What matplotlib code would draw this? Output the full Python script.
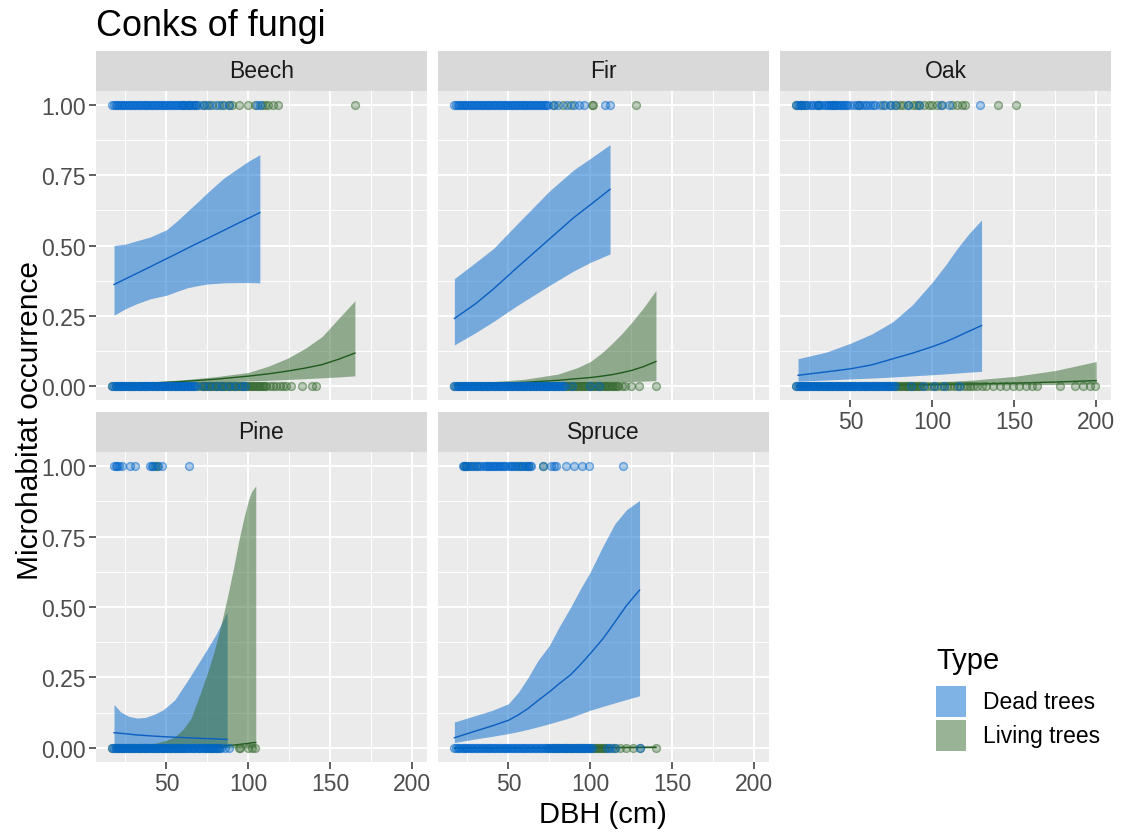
import matplotlib.pyplot as plt
from matplotlib.colors import to_rgba
from matplotlib.patches import Rectangle

plt.rcParams['font.family'] = ['Liberation Sans', 'DejaVu Sans']

W, H = 1121, 837

# ---- fitted curves (DBH knots, lower, fit, upper) ----
beech_dead_x = [18, 25, 32, 40, 50, 57, 63, 70, 75, 85, 94, 100, 107]
beech_dead_lo = [0.252, 0.275, 0.293, 0.31, 0.323, 0.338, 0.35, 0.358, 0.363, 0.367, 0.368, 0.368, 0.367]
beech_dead_fit = [0.361, 0.381, 0.401, 0.424, 0.453, 0.473, 0.491, 0.511, 0.525, 0.554, 0.580, 0.597, 0.617]
beech_dead_hi = [0.50, 0.505, 0.517, 0.53, 0.556, 0.59, 0.623, 0.66, 0.688, 0.74, 0.776, 0.80, 0.823]
beech_live_x = [18, 40, 60, 80, 100, 112, 124, 135, 145, 155, 165]
beech_live_lo = [0.002, 0.005, 0.009, 0.013, 0.018, 0.02, 0.023, 0.026, 0.029, 0.032, 0.036]
beech_live_fit = [0.005, 0.01, 0.016, 0.024, 0.035, 0.043, 0.053, 0.064, 0.076, 0.095, 0.117]
beech_live_hi = [0.008, 0.014, 0.022, 0.033, 0.048, 0.07, 0.099, 0.135, 0.176, 0.24, 0.303]

fir_dead_x = [17, 30, 41, 55, 75, 90, 100, 112]
fir_dead_lo = [0.146, 0.19, 0.23, 0.285, 0.358, 0.41, 0.44, 0.47]
fir_dead_fit = [0.24, 0.293, 0.346, 0.42, 0.523, 0.60, 0.645, 0.70]
fir_dead_hi = [0.382, 0.44, 0.49, 0.575, 0.694, 0.77, 0.81, 0.859]
fir_live_x = [17, 40, 60, 80, 92, 100, 107, 113, 119, 125, 132, 140]
fir_live_lo = [0.001, 0.003, 0.006, 0.009, 0.011, 0.012, 0.013, 0.014, 0.015, 0.016, 0.017, 0.019]
fir_live_fit = [0.004, 0.008, 0.013, 0.02, 0.026, 0.03, 0.035, 0.04, 0.047, 0.055, 0.068, 0.087]
fir_live_hi = [0.01, 0.015, 0.024, 0.042, 0.065, 0.087, 0.118, 0.15, 0.185, 0.225, 0.275, 0.34]

oak_dead_x = [18, 35, 50, 63, 76, 88, 100, 108, 115, 122, 130]
oak_dead_lo = [0.017, 0.021, 0.025, 0.028, 0.032, 0.036, 0.04, 0.043, 0.046, 0.049, 0.052]
oak_dead_fit = [0.038, 0.05, 0.061, 0.075, 0.097, 0.117, 0.14, 0.157, 0.175, 0.194, 0.215]
oak_dead_hi = [0.097, 0.12, 0.152, 0.185, 0.229, 0.29, 0.37, 0.43, 0.488, 0.54, 0.591]
oak_live_x = [17, 50, 100, 125, 150, 175, 200]
oak_live_lo = [0.0, 0.001, 0.002, 0.003, 0.004, 0.005, 0.007]
oak_live_fit = [0.001, 0.002, 0.005, 0.007, 0.01, 0.014, 0.019]
oak_live_hi = [0.002, 0.004, 0.013, 0.021, 0.034, 0.055, 0.087]

pine_dead_x = [18, 22, 27, 32, 37, 42, 48, 55, 63, 70, 75, 80, 83, 87]
pine_dead_lo = [0.006, 0.005, 0.004, 0.003, 0.002, 0.002, 0.001, 0.001, 0.0005, 0.0004, 0.0003, 0.0002, 0.0002, 0.0001]
pine_dead_fit = [0.054, 0.052, 0.049, 0.046, 0.044, 0.042, 0.04, 0.038, 0.036, 0.034, 0.033, 0.032, 0.031, 0.03]
pine_dead_hi = [0.154, 0.128, 0.112, 0.106, 0.108, 0.118, 0.135, 0.17, 0.24, 0.305, 0.352, 0.40, 0.435, 0.483]
pine_live_x = [18, 42, 50, 55, 60, 65, 71, 75, 79, 83, 87, 91, 94, 97, 100, 102, 104.5]
pine_live_lo = [0, 0, 0, 0, 0, 0, 0, 0, 0, 0, 0, 0, 0, 0, 0, 0, 0]
pine_live_fit = [0.0, 0.0005, 0.0008, 0.001, 0.0015, 0.002, 0.003, 0.004, 0.005, 0.006, 0.008, 0.01, 0.012, 0.014, 0.016, 0.018, 0.019]
pine_live_hi = [0.005, 0.015, 0.027, 0.039, 0.065, 0.105, 0.199, 0.265, 0.34, 0.43, 0.53, 0.64, 0.731, 0.81, 0.879, 0.91, 0.93]

spruce_dead_x = [17, 30, 40, 50, 56, 62, 68, 75, 81, 88, 94, 100, 108, 115, 122, 130]
spruce_dead_lo = [0.019, 0.032, 0.041, 0.051, 0.058, 0.066, 0.075, 0.086, 0.096, 0.108, 0.121, 0.134, 0.148, 0.16, 0.172, 0.185]
spruce_dead_fit = [0.036, 0.06, 0.078, 0.098, 0.117, 0.14, 0.168, 0.199, 0.228, 0.26, 0.296, 0.335, 0.39, 0.447, 0.505, 0.56]
spruce_dead_hi = [0.092, 0.115, 0.133, 0.157, 0.197, 0.25, 0.31, 0.364, 0.43, 0.50, 0.565, 0.625, 0.72, 0.796, 0.845, 0.878]
spruce_live_x = [17, 60, 100, 140]
spruce_live_lo = [0, 0, 0, 0]
spruce_live_fit = [0.0, 0.0005, 0.001, 0.002]
spruce_live_hi = [0.001, 0.002, 0.004, 0.008]

# ---- observed trees: DBH of trees with (1) / without (0) conks ----
beech_dead_1 = [17, 18, 19, 20, 21, 22, 23, 24, 25, 26, 27, 28, 29, 30, 31, 32, 33, 34, 35,
                36, 37, 38, 39, 40, 41, 42, 43, 44, 45, 46, 47, 48, 49, 50, 51, 52, 53, 54,
                55, 56, 57, 58, 59, 60, 61, 62, 63, 64, 65, 66, 67, 68, 70, 73, 76, 80, 84,
                88, 105, 107]
beech_live_1 = [60, 64, 68, 72, 75, 78, 82, 85, 88, 90, 94, 100, 104, 108, 110, 112, 115, 118, 165]
beech_dead_0 = [17, 18, 19, 20, 21, 22, 23, 24, 25, 26, 27, 28, 29, 30, 31, 32, 33, 34, 35,
                36, 37, 38, 39, 40, 41, 42, 43, 44, 45, 46, 47, 48, 49, 50, 51, 52, 53, 54,
                55, 56, 57, 58, 59, 60, 61, 62, 63, 64, 65, 66, 67, 68, 72, 76, 80, 84, 88,
                92, 96, 98]
beech_live_0 = [17, 19, 21, 23, 25, 27, 29, 31, 33, 35, 37, 39, 41, 43, 45, 47, 49, 51, 53,
                55, 57, 59, 61, 63, 65, 67, 69, 71, 72, 73, 74, 75, 76, 77, 78, 79, 80, 81,
                82, 83, 84, 85, 86, 87, 88, 89, 90, 91, 92, 93, 94, 95, 96, 97, 98, 99, 100,
                101, 102, 103, 104, 105, 106, 107, 108, 109, 110, 111, 113, 115, 117, 119,
                121, 123, 126, 133, 139, 141]

fir_dead_1 = [17, 18, 19, 20, 21, 22, 23, 24, 25, 26, 27, 28, 29, 30, 31, 32, 33, 34, 35,
              36, 37, 38, 39, 40, 41, 42, 43, 44, 45, 46, 47, 48, 49, 50, 51, 52, 53, 54,
              55, 56, 57, 58, 59, 60, 61, 62, 63, 64, 65, 66, 67, 68, 69, 70, 71, 72, 73,
              74, 77, 80, 86, 90, 93, 96, 109, 112]
fir_live_1 = [78, 83, 88, 101, 101.5, 127.6]
fir_dead_0 = [17, 18, 19, 20, 21, 22, 23, 24, 25, 26, 27, 28, 29, 30, 31, 32, 33, 34, 35,
              36, 37, 38, 39, 40, 41, 42, 43, 44, 45, 46, 47, 48, 49, 50, 51, 52, 53, 54,
              55, 56, 57, 58, 59, 60, 61, 62, 63, 64, 65, 66, 67, 68, 69, 70, 71, 72, 73,
              74, 75, 76, 77, 78, 79, 80, 81, 82, 83, 84, 88.5, 100, 105]
fir_live_0 = [17, 19, 21, 23, 25, 27, 29, 31, 33, 35, 37, 39, 41, 43, 45, 47, 49, 51, 53,
              55, 57, 59, 61, 63, 65, 67, 69, 71, 73, 75, 77, 79, 81, 83, 85, 86, 87, 88,
              89, 90, 91, 92, 93, 94, 95, 96, 97, 98, 99, 100, 101, 102, 103, 104, 105,
              106, 107, 108, 109, 110, 111, 112, 113, 114, 115, 116, 117, 119, 121, 124.5,
              129.6, 140]

oak_dead_1 = [17, 18, 19, 20, 21, 23, 24, 26, 27, 29, 30, 31, 32, 34, 35, 36, 37, 38, 39,
              40, 41, 42, 43, 44, 45, 46, 47, 48, 50, 52, 54, 55, 57, 59, 60, 62, 64, 65,
              68, 71, 74, 77, 85, 92, 105, 110, 129]
oak_live_1 = [17, 20, 22, 30, 40, 55, 70, 75, 78, 80, 82, 85, 88, 90, 92, 95, 98, 100, 103,
              106, 112, 115, 118, 120, 140, 151]
oak_dead_0 = [17, 18, 19, 20, 21, 22, 23, 24, 25, 26, 27, 28, 29, 30, 31, 32, 33, 34, 35,
              36, 37, 38, 39, 40, 41, 42, 43, 44, 45, 46, 47, 48, 49, 50, 51, 52, 53, 54,
              55, 56, 57, 58, 59, 60, 61, 62, 63, 64, 65, 66, 67, 68, 69, 70, 71, 72, 73,
              74, 75, 76, 77, 87, 94, 101, 107, 116]
oak_live_0 = [17, 19, 21, 23, 25, 27, 29, 31, 33, 35, 37, 39, 41, 43, 45, 47, 49, 51, 53,
              55, 57, 59, 61, 63, 65, 67, 69, 71, 73, 75, 77, 78, 79, 80, 81, 82, 83, 84,
              85, 86, 87, 88, 89, 90, 91, 92, 93, 95, 97, 99, 101, 103, 105, 107, 109, 111,
              113, 115, 117, 119, 121, 123, 125, 127, 130, 133, 137, 141, 145, 149, 153,
              157, 161, 164, 178, 187, 192, 196, 199]

pine_dead_1 = [18, 19, 20, 21, 23, 28, 31, 40, 41, 42, 45, 47, 64]
pine_live_1 = [43, 44]
pine_dead_0 = [17, 18, 19, 20, 21, 22, 23, 24, 25, 26, 27, 28, 29, 30, 31, 32, 33, 34, 35,
               36, 37, 38, 39, 40, 41, 42, 43, 44, 45, 46, 47, 48, 49, 50, 51, 52, 53, 54,
               55, 56, 57, 58, 59, 60, 61, 62, 63, 64, 65, 66, 67, 68, 69, 70, 71, 72, 73,
               74, 75, 76, 77, 78, 79, 80, 81, 82, 83, 86, 88]
pine_live_0 = [17, 19, 21, 23, 25, 27, 29, 31, 33, 35, 37, 39, 41, 43, 45, 47, 49, 51, 53,
               55, 57, 59, 62, 66, 70, 74, 76, 78, 80, 82, 94, 95, 100, 102, 104]

spruce_dead_1 = [22, 23, 24, 25, 27, 28, 29, 31, 32, 33, 35, 36, 37, 38, 39, 40, 41, 42, 43,
                 44, 45, 46, 47, 48, 50, 51, 52, 53, 54, 56, 57, 58, 60, 61, 62, 63, 64, 71,
                 76, 78, 79, 85, 90, 95, 99, 120]
spruce_live_1 = [23, 24, 26, 30, 55, 58, 62, 71]
spruce_dead_0 = [17, 18, 19, 20, 21, 22, 23, 24, 25, 26, 27, 28, 29, 30, 31, 32, 33, 34,
                 35, 36, 37, 38, 39, 40, 41, 42, 43, 44, 45, 46, 47, 48, 49, 50, 51, 52, 53,
                 54, 55, 56, 57, 58, 59, 60, 61, 62, 63, 64, 65, 66, 67, 68, 69, 70, 71, 72,
                 73, 74, 75, 76, 77, 78, 79, 80, 81, 82, 83, 84, 85, 86, 87, 88, 89, 90, 91,
                 92, 93, 94, 95, 96, 97, 98, 99, 100, 101, 110, 112, 115, 130]
spruce_live_0 = [75, 77, 79, 81, 83, 85, 87, 89, 91, 93, 95, 97, 99, 101, 102, 103, 104, 105,
                 106, 107, 108, 109, 111, 113, 115, 118, 122, 126, 130, 140]

species = ["Beech", "Fir", "Oak", "Pine", "Spruce"]
types = ["Dead trees", "Living trees"]

curves = {
    "Beech": [(beech_dead_x, beech_dead_lo, beech_dead_fit, beech_dead_hi),
              (beech_live_x, beech_live_lo, beech_live_fit, beech_live_hi)],
    "Fir": [(fir_dead_x, fir_dead_lo, fir_dead_fit, fir_dead_hi),
            (fir_live_x, fir_live_lo, fir_live_fit, fir_live_hi)],
    "Oak": [(oak_dead_x, oak_dead_lo, oak_dead_fit, oak_dead_hi),
            (oak_live_x, oak_live_lo, oak_live_fit, oak_live_hi)],
    "Pine": [(pine_dead_x, pine_dead_lo, pine_dead_fit, pine_dead_hi),
             (pine_live_x, pine_live_lo, pine_live_fit, pine_live_hi)],
    "Spruce": [(spruce_dead_x, spruce_dead_lo, spruce_dead_fit, spruce_dead_hi),
               (spruce_live_x, spruce_live_lo, spruce_live_fit, spruce_live_hi)],
}
points = {
    "Beech": [(beech_dead_1, beech_dead_0), (beech_live_1, beech_live_0)],
    "Fir": [(fir_dead_1, fir_dead_0), (fir_live_1, fir_live_0)],
    "Oak": [(oak_dead_1, oak_dead_0), (oak_live_1, oak_live_0)],
    "Pine": [(pine_dead_1, pine_dead_0), (pine_live_1, pine_live_0)],
    "Spruce": [(spruce_dead_1, spruce_dead_0), (spruce_live_1, spruce_live_0)],
}

colors = ["#0066CC", "#33692D"]
line_colors = ["#0A5FC2", "#1F5A1F"]

# panel layout in pixels
col_left = [96, 438, 780]
panel_w = 331
rows = [(52, 92, 401), (413, 453, 763)]
layout = {"Beech": (0, 0), "Fir": (1, 0), "Oak": (2, 0), "Pine": (0, 1), "Spruce": (1, 1)}


def frac(l, t, r, b):
    return [l / W, 1 - b / H, (r - l) / W, (b - t) / H]


fig = plt.figure(figsize=(W / 100, H / 100), dpi=100)
fig.patch.set_facecolor("white")

for sp in species:
    c, r = layout[sp]
    l = col_left[c]
    s_top, p_top, p_bot = rows[r]

    # strip
    sax = fig.add_axes(frac(l, s_top, l + panel_w, p_top))
    sax.set_facecolor("#D9D9D9")
    sax.set_xticks([])
    sax.set_yticks([])
    for sp_ in sax.spines.values():
        sp_.set_visible(False)
    sax.text(0.5, 0.5, sp, ha="center", va="center", fontsize=16.5, color="#1A1A1A",
             transform=sax.transAxes)

    ax = fig.add_axes(frac(l, p_top, l + panel_w, p_bot))
    ax.set_facecolor("#EBEBEB")
    for sp_ in ax.spines.values():
        sp_.set_visible(False)
    ax.set_xlim(7, 209)
    ax.set_ylim(-0.05, 1.05)
    ax.set_xticks([50, 100, 150, 200])
    ax.set_xticks([25, 75, 125, 175], minor=True)
    ax.set_yticks([0, 0.25, 0.5, 0.75, 1.0])
    ax.set_yticks([0.125, 0.375, 0.625, 0.875], minor=True)
    ax.grid(which="major", color="white", linewidth=1.4)
    ax.grid(which="minor", color="white", linewidth=0.7)
    ax.set_axisbelow(True)
    ax.tick_params(which="minor", length=0)
    ax.tick_params(which="major", length=5, width=1.1, color="#333333",
                   labelsize=16.5, labelcolor="#4D4D4D", pad=2.5)

    if c == 0:
        ax.set_yticklabels(["0.00", "0.25", "0.50", "0.75", "1.00"])
    else:
        ax.tick_params(axis="y", which="major", length=0, labelleft=False)
    if r == 1 or sp == "Oak":
        ax.set_xticklabels(["50", "100", "150", "200"])
    else:
        ax.tick_params(axis="x", which="major", length=0, labelbottom=False)

    for k in range(2):
        x, lo, fit, hi = curves[sp][k]
        ax.fill_between(x, lo, hi, color=colors[k], alpha=0.5, linewidth=0, zorder=2)
    for k in range(2):
        x, lo, fit, hi = curves[sp][k]
        ax.plot(x, fit, color=line_colors[k], linewidth=1.0, zorder=3)
    for k in [1, 0]:
        x1, x0 = points[sp][k]
        fc = to_rgba(colors[k], 0.3)
        ec = to_rgba(colors[k], 0.5)
        ax.scatter(x1, [1] * len(x1), s=32, facecolors=fc, edgecolors=ec, linewidths=1,
                   zorder=4)
        ax.scatter(x0, [0] * len(x0), s=32, facecolors=fc, edgecolors=ec, linewidths=1,
                   zorder=4)

# titles
fig.text(96 / W, 1 - 27 / H, "Conks of fungi", ha="left", va="center", fontsize=25.8,
         color="black")
fig.text(603 / W, 1 - 815 / H, "DBH (cm)", ha="center", va="center", fontsize=21,
         color="black")
fig.text(30 / W, 1 - 421 / H, "Microhabitat occurrence", ha="center", va="center",
         fontsize=21.5, rotation=90, color="black")

# legend
fig.text(936 / W, 1 - 661 / H, "Type", ha="left", va="center", fontsize=21, color="black")
key_tops = [687, 721]
for k in range(2):
    t = key_tops[k]
    fig.add_artist(Rectangle((936 / W, 1 - (t + 31) / H), 30 / W, 31 / H,
                             transform=fig.transFigure, facecolor=colors[k], alpha=0.5,
                             edgecolor="none"))
    fig.text(983 / W, 1 - (t + 16) / H, types[k], ha="left", va="center", fontsize=16.5,
             color="black")

fig.savefig("out.png", dpi=100)
